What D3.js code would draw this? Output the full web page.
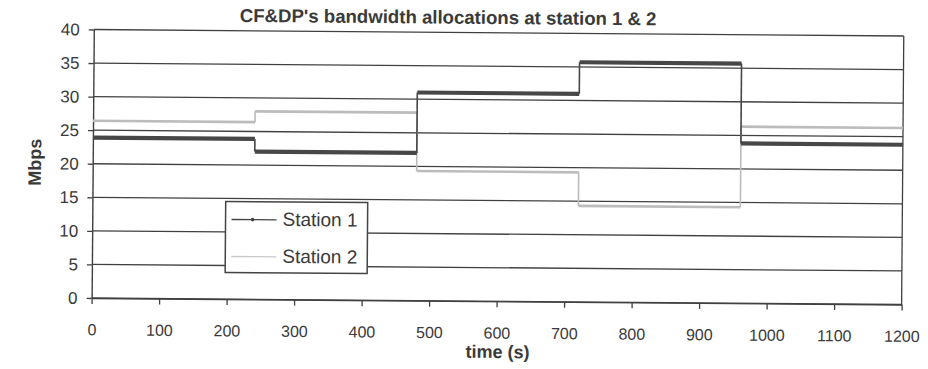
<!DOCTYPE html>
<html>
<head>
<meta charset="utf-8">
<script src="https://cdn.jsdelivr.net/npm/d3@7"></script>
<style>
  body { margin: 0; background: #fff; }
  svg { display: block; font-family: "Liberation Sans", Arial, Helvetica, sans-serif; }
</style>
</head>
<body>
<div id="chart"></div>
<script>
// step boundaries (s) and the allocation held on each interval (Mbps)
var times = [0, 240, 480, 720, 960, 1200];
var station1 = [23.9, 22.0, 31.0, 35.7, 23.8];
var station2 = [26.4, 28.0, 19.3, 14.3, 26.3];
var xTicks = [0, 100, 200, 300, 400, 500, 600, 700, 800, 900, 1000, 1100, 1200];
var yTicks = [0, 5, 10, 15, 20, 25, 30, 35, 40];
var seriesNames = ["Station 1", "Station 2"];

var W = 928, H = 369;
var margin = {top: 32.75, right: 25.3, bottom: 67.75, left: 92.7};
var width = W - margin.left - margin.right,
    height = H - margin.top - margin.bottom;

var ink = "#3a3a3a";

var svg = d3.select("#chart").append("svg")
  .attr("width", W)
  .attr("height", H);

// the scan is slightly tilted, so is everything here
var page = svg.append("g")
  .attr("transform", "rotate(0.46," + (margin.left + width / 2) + "," + (margin.top + height / 2) + ")");

var g = page.append("g")
  .attr("transform", "translate(" + margin.left + "," + margin.top + ")");

var x = d3.scaleLinear().domain([0, 1200]).range([0, width]);
var y = d3.scaleLinear().domain([0, 40]).range([height, 0]);

// horizontal grid
g.append("g")
  .selectAll("line")
  .data(yTicks)
  .enter().append("line")
    .attr("x1", 0)
    .attr("x2", width)
    .attr("y1", d => y(d))
    .attr("y2", d => y(d))
    .attr("stroke", "#404040")
    .attr("stroke-width", 1.3);

// right border
g.append("line")
  .attr("x1", width).attr("x2", width)
  .attr("y1", 0).attr("y2", height)
  .attr("stroke", "#404040")
  .attr("stroke-width", 1.3);

// axes
var xAxis = g.append("g")
  .attr("transform", "translate(0," + height + ")")
  .call(d3.axisBottom(x).tickValues(xTicks).tickFormat(d3.format("d"))
    .tickSize(6).tickPadding(20).tickSizeOuter(0));
var yAxis = g.append("g")
  .call(d3.axisLeft(y).tickValues(yTicks).tickSize(5).tickPadding(9).tickSizeOuter(0));

[xAxis, yAxis].forEach(function(a) {
  a.select(".domain").attr("stroke", "#404040").attr("stroke-width", 1.4);
  a.selectAll(".tick line").attr("stroke", "#404040").attr("stroke-width", 1.3);
  a.selectAll("text").attr("fill", ink).attr("font-family", null);
});
xAxis.selectAll("text").attr("font-size", "16px");
yAxis.selectAll("text").attr("font-size", "17px");

// step series: thin risers, heavy treads
function drawSteps(vals, color, tread, riser) {
  var s = g.append("g");
  s.selectAll(".riser")
    .data(vals.slice(1))
    .enter().append("line")
      .attr("x1", (d, i) => x(times[i + 1]))
      .attr("x2", (d, i) => x(times[i + 1]))
      .attr("y1", (d, i) => y(vals[i]))
      .attr("y2", d => y(d))
      .attr("stroke", color)
      .attr("stroke-width", riser);
  s.selectAll(".tread")
    .data(vals)
    .enter().append("line")
      .attr("x1", (d, i) => x(times[i]))
      .attr("x2", (d, i) => x(times[i + 1]))
      .attr("y1", d => y(d))
      .attr("y2", d => y(d))
      .attr("stroke", color)
      .attr("stroke-width", tread);
}
drawSteps(station2, "#bcbcbc", 2.6, 1.6);
drawSteps(station1, "#474747", 4.2, 1.6);

// legend
var leg = page.append("g").attr("transform", "translate(226,203.6)");
leg.append("rect")
  .attr("width", 142).attr("height", 71)
  .attr("fill", "#fff")
  .attr("stroke", "#444")
  .attr("stroke-width", 1.5);
var legColors = ["#444", "#c8c8c8"];
seriesNames.forEach(function(name, i) {
  var ly = 18 + i * 37;
  leg.append("line")
    .attr("x1", 6).attr("x2", 51)
    .attr("y1", ly).attr("y2", ly)
    .attr("stroke", legColors[i])
    .attr("stroke-width", 1.4);
  if (i === 0) {
    leg.append("circle").attr("cx", 27).attr("cy", ly).attr("r", 1.8).attr("fill", legColors[i]);
  }
  leg.append("text")
    .attr("x", 57).attr("y", ly + 6)
    .attr("font-size", "19px")
    .attr("fill", ink)
    .text(name);
});

// titles
page.append("text")
  .attr("x", 447).attr("y", 24)
  .attr("text-anchor", "middle")
  .attr("font-size", "18.6px")
  .attr("font-weight", "bold")
  .attr("fill", ink)
  .text("CF&DP's bandwidth allocations at station 1 & 2");

page.append("text")
  .attr("x", 499).attr("y", 358)
  .attr("text-anchor", "middle")
  .attr("font-size", "18px")
  .attr("font-weight", "bold")
  .attr("fill", ink)
  .text("time (s)");

page.append("text")
  .attr("transform", "translate(41,166) rotate(-90)")
  .attr("text-anchor", "middle")
  .attr("font-size", "18px")
  .attr("font-weight", "bold")
  .attr("fill", ink)
  .text("Mbps");
</script>
</body>
</html>
